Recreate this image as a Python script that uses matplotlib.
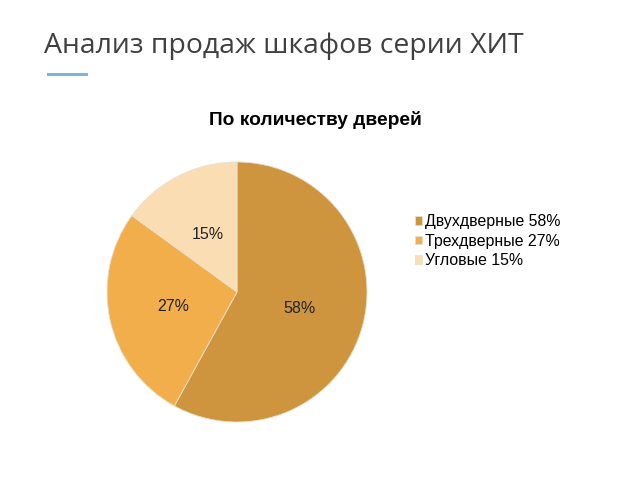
import matplotlib.pyplot as plt
from matplotlib.lines import Line2D

labels = ['Двухдверные', 'Трехдверные', 'Угловые']
shares = [58, 27, 15]
colors = ['#CF953E', '#F1AE4B', '#FBDDB3']

fig = plt.figure(figsize=(6.4, 4.8), dpi=100)
fig.patch.set_facecolor('white')

# slide header
fig.text(44 / 640, 1 - 46 / 480, 'Анализ продаж шкафов серии ХИТ',
         fontsize=20.4, color='#404040', family='Open Sans', va='center')
fig.add_artist(Line2D([48 / 640, 86 / 640], [1 - 74 / 480, 1 - 74 / 480],
                      color='#7DB4DC', lw=2.2))

fig.text(315 / 640, 1 - 120 / 480, 'По количеству дверей', fontsize=13.8,
         fontweight='bold', family='Liberation Sans', ha='center', va='center')

ax = fig.add_axes([107 / 640, 58 / 480, 260 / 640, 260 / 480])
wedges, texts = ax.pie(shares, colors=colors, startangle=90, counterclock=False,
                       labels=[f'{s}%' for s in shares], labeldistance=0.5,
                       wedgeprops=dict(edgecolor='#E8E0D0', linewidth=0.6),
                       textprops=dict(fontsize=11.5, family='Liberation Sans',
                                      color='#222222', ha='center'))
ax.set_xlim(-1, 1)
ax.set_ylim(-1, 1)
ax.set_aspect('equal')

leg = fig.legend(wedges, [f'{l} {s}%' for l, s in zip(labels, shares)],
                 loc='upper left', bbox_to_anchor=(401 / 640, 1 - 200 / 480),
                 frameon=False, handlelength=0.45, handleheight=0.45,
                 handletextpad=0.15, labelspacing=0.28,
                 prop=dict(family='Liberation Sans', size=11.4))

fig.savefig('out.png', dpi=100)
